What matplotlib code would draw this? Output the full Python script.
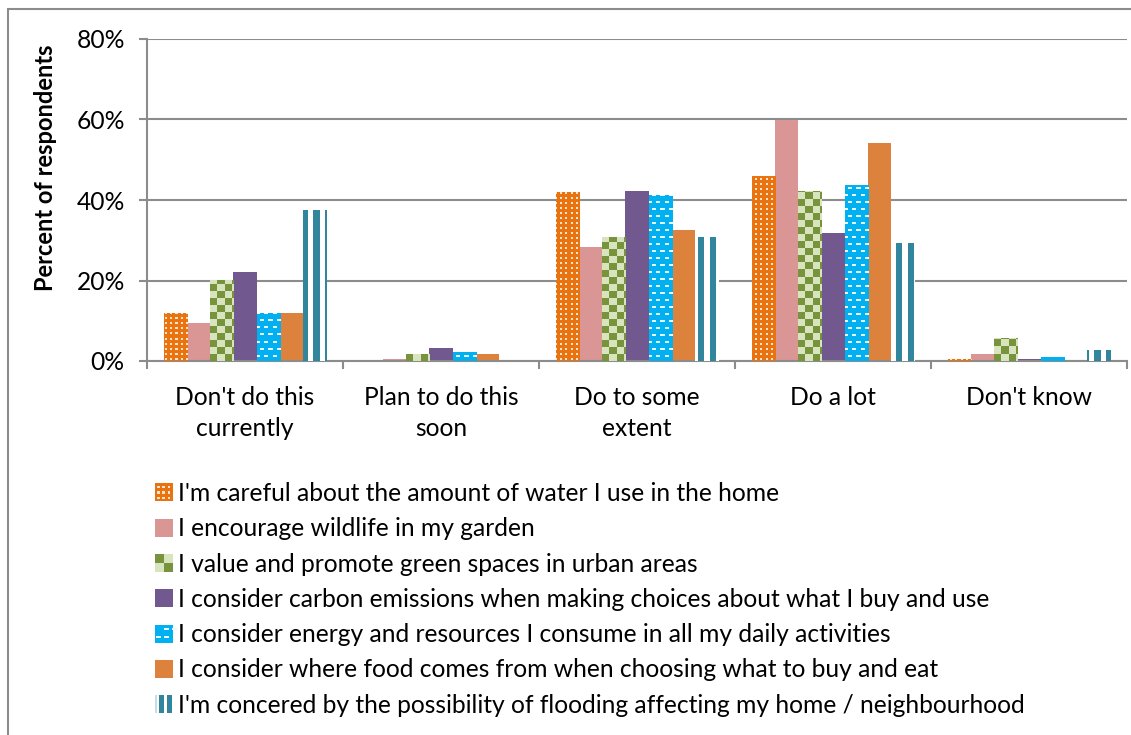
import numpy as np
import matplotlib
matplotlib.use('Agg')
import matplotlib.pyplot as plt
import matplotlib.ticker as ticker
from matplotlib.patches import Patch, Rectangle
from matplotlib.legend_handler import HandlerBase
from matplotlib.colors import to_rgb

categories = ["Don't do this\ncurrently", 'Plan to do this\nsoon', 'Do to some\nextent',
              'Do a lot', "Don't know"]

series_names = [
    "I'm careful about the amount of water I use in the home",
    'I encourage wildlife in my garden',
    'I value and promote green spaces in urban areas',
    'I consider carbon emissions when making choices about what I buy and use',
    'I consider energy and resources I consume in all my daily activities',
    'I consider where food comes from when choosing what to buy and eat',
    "I'm concered by the possibility of flooding affecting my home / neighbourhood",
]

water    = [11.7, 0.0, 41.8, 45.9, 0.4]
wildlife = [9.4, 0.4, 28.4, 59.9, 1.7]
green    = [20.1, 1.7, 30.7, 42.0, 5.5]
carbon   = [22.2, 3.3, 42.2, 31.8, 0.5]
energy   = [11.7, 2.2, 41.2, 43.7, 0.9]
food     = [11.9, 1.7, 32.5, 54.1, 0.0]
flooding = [37.4, 0.0, 30.7, 29.1, 2.7]

values = [water, wildlife, green, carbon, energy, food, flooding]

# base fill, second colour and texture for each series
STYLES = [
    ('#E8730F', '#FBE3CF', 'dots'),
    ('#D99694', None, None),
    ('#77933C', '#D7E4BD', 'checker'),
    ('#71588F', None, None),
    ('#00B0F0', '#E6F7FD', 'dashes'),
    ('#DD823C', None, None),
    ('#FFFFFF', '#31859C', 'stripes'),
]

GRID = '#8C8C8C'
FONT = 'Lato'
FS = 17.7
DPI = 100


def texture_mask(kind, ix, iy):
    """Boolean mask (True = second colour) on a pixel grid."""
    if kind == 'dots':
        return ((ix % 5) < 2) & ((iy % 5) < 2)
    if kind == 'checker':
        return ((ix // 7) + (iy // 7)) % 2 == 1
    if kind == 'dashes':
        row = iy // 7
        shift = (row % 2) * 4
        return (((ix + shift) % 8) < 4) & ((iy % 7) < 2)
    if kind == 'stripes':
        return (ix % 11) >= 5
    return np.zeros_like(ix, dtype=bool)


def add_texture(ax, rect, base, second, kind):
    x0, y0 = rect.get_x(), rect.get_y()
    w, h = rect.get_width(), rect.get_height()
    if h <= 0:
        return
    (px0, py0), (px1, py1) = ax.transData.transform([(x0, y0), (x0 + w, y0 + h)])
    wp = max(int(round(px1 - px0)), 1)
    hp = max(int(round(py1 - py0)), 1)
    ix, iy = np.meshgrid(np.arange(wp) + int(round(px0)),
                         np.arange(hp)[::-1] + int(round(py0)))
    if kind == 'checker':
        iy = np.meshgrid(np.arange(wp), np.arange(hp)[::-1])[1]
    m = texture_mask(kind, ix, iy)
    img = np.empty((hp, wp, 3))
    img[:] = to_rgb(base)
    img[m] = to_rgb(second)
    ax.imshow(img, extent=(x0, x0 + w, y0, y0 + h), origin='upper',
              interpolation='nearest', aspect='auto', zorder=3)


class SwatchHandler(HandlerBase):
    """Small square legend swatch carrying the bar texture."""

    def create_artists(self, legend, orig_handle, xdescent, ydescent,
                       width, height, fontsize, trans):
        base, second, kind = orig_handle.style
        s = height
        x = -xdescent
        y = -ydescent
        arts = [Rectangle((x, y), s, s, facecolor=base, edgecolor='none', transform=trans)]
        if kind == 'dots':
            for i in range(3):
                for j in range(3):
                    arts.append(Rectangle((x + s * (0.12 + 0.3 * i), y + s * (0.12 + 0.3 * j)),
                                          s * 0.14, s * 0.14, facecolor=second,
                                          edgecolor='none', transform=trans))
        elif kind == 'checker':
            for i in range(2):
                for j in range(2):
                    c = second if (i + j) % 2 == 0 else base
                    arts.append(Rectangle((x + s * 0.5 * i, y + s * 0.5 * j), s * 0.5, s * 0.5,
                                          facecolor=c, edgecolor='none', transform=trans))
        elif kind == 'dashes':
            for j, off in enumerate([0.1, 0.55]):
                for i in range(2):
                    arts.append(Rectangle((x + s * (off - 0.05 + 0.45 * i) % s, y + s * (0.25 + 0.45 * j)),
                                          s * 0.3, s * 0.12, facecolor=second,
                                          edgecolor='none', transform=trans))
        elif kind == 'stripes':
            for i in range(2):
                arts.append(Rectangle((x + s * (0.2 + 0.45 * i), y), s * 0.3, s,
                                      facecolor=second, edgecolor='none', transform=trans))
            arts.append(Rectangle((x, y), s * 0.1, s, facecolor='#C9DDE3',
                                  edgecolor='none', transform=trans))
        return arts


fig = plt.figure(figsize=(11.31, 7.35), dpi=DPI)
ax = fig.add_axes([147 / 1131, 1 - 361 / 735, 980 / 1131, 322 / 735])

n_series = len(values)
bar_w = 1 / 8.5
xs = np.arange(len(categories))
ax.set_xlim(-0.5, len(categories) - 0.5)
ax.set_ylim(0, 80)

for k, (vals, (base, second, kind)) in enumerate(zip(values, STYLES)):
    offs = (k - (n_series - 1) / 2) * bar_w
    bars = ax.bar(xs + offs, vals, width=bar_w, color=base, linewidth=0, zorder=2)
    if kind:
        for rect in bars:
            add_texture(ax, rect, base, second, kind)

ax.set_xlim(-0.5, len(categories) - 0.5)
ax.set_ylim(0, 80)

# axes styling: only left and bottom lines, horizontal grid
for side in ('top', 'right'):
    ax.spines[side].set_visible(False)
for side in ('left', 'bottom'):
    ax.spines[side].set_color(GRID)
    ax.spines[side].set_linewidth(1.5)
ax.yaxis.set_major_locator(ticker.MultipleLocator(20))
ax.yaxis.set_major_formatter(ticker.FuncFormatter(lambda v, _p: f'{v:.0f}%'))
ax.grid(axis='y', color=GRID, linewidth=1.5, zorder=0)
ax.set_axisbelow(True)

ax.set_xticks(np.arange(len(categories) + 1) - 0.5)
ax.set_xticklabels([])
ax.set_xticks(xs, minor=True)
ax.set_xticklabels(categories, minor=True, fontfamily=FONT, fontsize=FS, linespacing=1.42)
ax.tick_params(axis='x', which='major', length=6, width=1.5, color=GRID)
ax.tick_params(axis='x', which='minor', length=0, pad=18)
ax.tick_params(axis='y', length=6, width=1.5, color=GRID, pad=10)
for lab in ax.get_yticklabels():
    lab.set_fontfamily(FONT)
    lab.set_fontsize(FS)

ax.set_ylabel('Percent of respondents', fontfamily=FONT, fontsize=FS - 0.7,
              fontweight='bold')
ax.yaxis.set_label_coords(-0.092, 0.60)

handles = []
for name, st in zip(series_names, STYLES):
    h = Patch(label=name)
    h.style = st
    handles.append(h)
fig.legend(handles=handles, loc='upper left', bbox_to_anchor=(155 / 1131, 1 - 482 / 735),
           frameon=False, prop={'family': FONT, 'size': FS},
           handler_map={Patch: SwatchHandler()}, handlelength=0.74, handleheight=0.74,
           handletextpad=0.2, labelspacing=0.5, borderaxespad=0, borderpad=0)

# outer chart border
fig.patches.append(Rectangle((8 / 1131, -0.1), 1.2, 1 - 9 / 735 + 0.1, transform=fig.transFigure,
                             facecolor='none', edgecolor=GRID, linewidth=1.5))

fig.savefig('out.png', dpi=DPI)
